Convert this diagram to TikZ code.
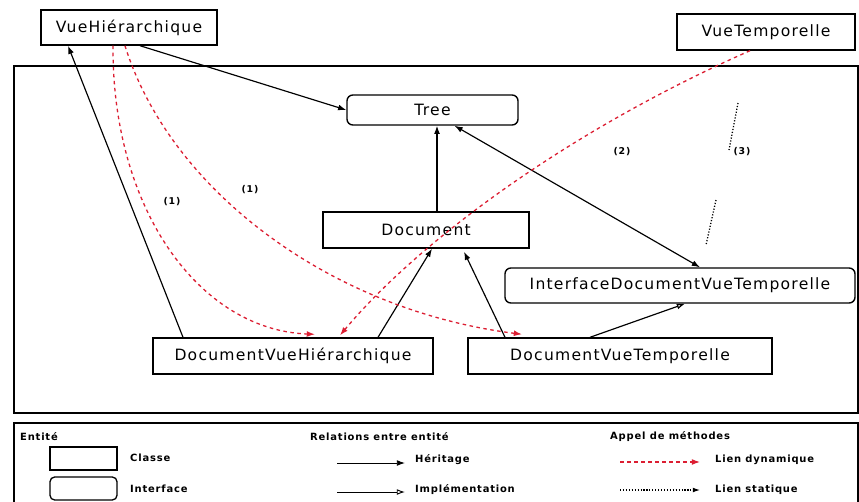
\documentclass[tikz,border=0pt]{standalone}
\usepackage{fontspec}
\setmainfont{DejaVu Sans}[LetterSpace=8]
\usetikzlibrary{arrows.meta,calc}
\definecolor{dynred}{RGB}{220,30,50}
\begin{document}
\begin{tikzpicture}[x=0.03cm,y=-0.03cm,
  every node/.style={inner sep=0pt},
  cls/.style={draw,line width=1.2pt,font=\fontsize{13.3}{15}\selectfont},
  intf/.style={cls,rounded corners=5pt},
  frame/.style={draw,line width=1.2pt},
  inh/.style={line width=1pt,-{Latex[length=7pt,width=5pt]}},
  both/.style={line width=1pt,{Latex[length=7pt,width=5pt]}-{Latex[length=7pt,width=5pt]}},
  impl/.style={line width=1pt,-{Latex[open,length=7pt,width=5pt]}},
  dyn/.style={dynred,line width=1.1pt,dash pattern=on 3pt off 3pt,-{Latex[length=7pt,width=5pt]}},
  stat/.style={black,line width=1.1pt,dash pattern=on 1pt off 1.5pt},
  num/.style={font=\fontsize{8}{9}\selectfont\bfseries},
  leg/.style={font=\fontsize{8.5}{10}\selectfont\bfseries,anchor=west}]
\useasboundingbox (0,0) rectangle (859,502);
\fill[white] (0,0) rectangle (859,502);
% frames
\draw[frame] (14,66) rectangle (858,413);
\draw[frame] (14,600) -- (14,423) -- (858,423) -- (858,600);
% nodes
\node[cls,minimum width=5.28cm,minimum height=1.05cm] (VH) at (129,27.5) {VueHiérarchique};
\node[cls,minimum width=5.34cm,minimum height=1.08cm] (VT) at (766,32) {VueTemporelle};
\node[intf,minimum width=5.13cm,minimum height=0.9cm] (Tree) at (432.5,110) {Tree};
\node[cls,minimum width=6.18cm,minimum height=1.08cm] (Doc) at (426,230) {Document};
\node[intf,minimum width=10.5cm,minimum height=1.05cm] (IDVT) at (680,285.5) {InterfaceDocumentVueTemporelle};
\node[cls,minimum width=8.4cm,minimum height=1.08cm] (DVH) at (293,356) {DocumentVueHiérarchique};
\node[cls,minimum width=9.12cm,minimum height=1.08cm] (DVT) at (620,356) {DocumentVueTemporelle};
% solid relations
\draw[inh] ($(VH.south)+(11,0)$) -- (Tree.west);
\draw[inh] ($(DVH.north)+(-110,0)$) -- ($(VH.south)+(-61,0)$);
\draw[inh] ($(Doc.north)+(11,0)$) -- ($(Tree.south)+(4.5,0)$);
\draw[inh] ($(DVH.north)+(85,0)$) -- ($(Doc.south)+(6,0)$);
\draw[inh] ($(DVT.north)+(-115,0)$) -- ($(Doc.south)+(38,3)$);
\draw[impl] ($(DVT.north)+(-30,0)$) -- ($(IDVT.south)+(5,0)$);
\draw[both] ($(Tree.south)+(22,0)$) -- ($(IDVT.north)+(20,0)$);
% dynamic calls
\draw[dyn] ($(VH.south)+(-16,0)$) .. controls (112,210) and (200,330) .. ($(DVH.north)+(22,-3)$);
\draw[dyn] ($(VH.south)+(-4,0)$) .. controls (170,190) and (330,310) .. ($(DVT.north)+(-98,-3)$);
\draw[dyn] ($(VT.south)+(-16,0)$) .. controls (570,130) and (420,240) .. ($(DVH.north)+(47,-2)$);
% static call
\coordinate (s1) at (738,103);
\coordinate (s2) at (729,150);
\coordinate (s3) at (716,200);
\coordinate (s4) at (706,245);
\draw[stat] (s1) -- (s2);
\draw[stat] (s3) -- (s4);
% labels
\node[num] (l1) at (172,202) {(1)};
\node[num] (l2) at (250,190) {(1)};
\node[num] (l3) at (622,152) {(2)};
\node[num] (l4) at (742,152) {(3)};
% legend
\node[leg] (e1) at (20,437) {Entité};
\node[draw,line width=1.1pt,minimum width=2.01cm,minimum height=0.69cm] (bc) at (83.5,458.5) {};
\node[leg] (e2) at (130,458) {Classe};
\node[draw,line width=1.1pt,rounded corners=4pt,minimum width=2.01cm,minimum height=0.69cm] (bi) at (83.5,488.5) {};
\node[leg] (e3) at (130,489) {Interface};
\node[leg] (r0) at (310,437) {Relations entre entité};
\coordinate (ha) at (337,463);
\coordinate (hb) at (405,463);
\draw[inh,line width=0.8pt] (ha) -- (hb);
\node[leg] (r1) at (415,460) {Héritage};
\coordinate (ia) at (337,492);
\coordinate (ib) at (405,492);
\draw[impl,line width=0.8pt] (ia) -- (ib);
\node[leg] (r2) at (415,490) {Implémentation};
\node[leg] (a0) at (610,437) {Appel de méthodes};
\coordinate (da) at (620,462);
\coordinate (db) at (700,462);
\draw[dyn,line width=0.9pt] (da) -- (db);
\node[leg] (a1) at (715,460) {Lien dynamique};
\coordinate (sa) at (620,490);
\coordinate (sb) at (700,490);
\draw[stat,line width=0.9pt,-{Latex[length=6pt,width=4pt]}] (sa) -- (sb);
\node[leg] (a2) at (715,490) {Lien statique};
\end{tikzpicture}
\end{document}
